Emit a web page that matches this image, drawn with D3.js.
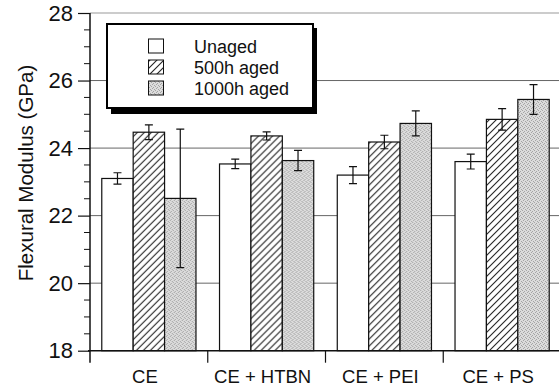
<!DOCTYPE html>
<html>
<head>
<meta charset="utf-8">
<script src="https://cdn.jsdelivr.net/npm/d3@7"></script>
<style>
  body { margin: 0; background: #fff; }
  svg { display: block; font-family: "Liberation Sans", Arial, sans-serif; }
</style>
</head>
<body>
<script>
var width = 559, height = 389;

// data
var categories = ["CE", "CE + HTBN", "CE + PEI", "CE + PS"];
var seriesNames = ["Unaged", "500h aged", "1000h aged"];
var unaged = [23.10, 23.53, 23.20, 23.60];
var unagedErr = [0.17, 0.14, 0.25, 0.22];
var aged500 = [24.47, 24.36, 24.18, 24.85];
var aged500Err = [0.22, 0.12, 0.20, 0.32];
var aged1000 = [22.51, 23.63, 24.73, 25.44];
var aged1000Err = [2.05, 0.30, 0.37, 0.44];
var yTicks = [18, 20, 22, 24, 26, 28];

var values = [unaged, aged500, aged1000];
var errors = [unagedErr, aged500Err, aged1000Err];
var fills = ["#fff", "url(#hatch)", "url(#stipple)"];

var svg = d3.select("body").append("svg")
    .attr("width", width)
    .attr("height", height);

var defs = svg.append("defs");

// diagonal hatch "/"
var hatch = defs.append("pattern")
    .attr("id", "hatch")
    .attr("patternUnits", "userSpaceOnUse")
    .attr("width", 7).attr("height", 7);
hatch.append("rect").attr("width", 7).attr("height", 7).attr("fill", "#fff");
hatch.append("path")
    .attr("d", "M-1,8 L8,-1 M-4,4 L4,-4 M3,11 L11,3")
    .attr("stroke", "#222").attr("stroke-width", 1.1);

// grey stipple
var stip = defs.append("pattern")
    .attr("id", "stipple")
    .attr("patternUnits", "userSpaceOnUse")
    .attr("width", 4).attr("height", 4);
stip.append("rect").attr("width", 4).attr("height", 4).attr("fill", "#dcdcdc");
[[0, 0], [2, 1], [1, 3], [3, 2]].forEach(function(p) {
  stip.append("rect").attr("x", p[0]).attr("y", p[1])
      .attr("width", 1).attr("height", 1).attr("fill", "#a4a4a4");
});

var y = d3.scaleLinear().domain([18, 28]).range([350.7, 13]);
var x = d3.scaleBand().domain(categories).range([90, 561])
    .paddingInner(0.2).paddingOuter(0.1);
var xs = d3.scaleBand().domain(d3.range(3)).range([0, x.bandwidth()]);

// gridlines
svg.append("g").selectAll("line")
    .data(yTicks.filter(function(d) { return d > 18; }))
    .join("line")
    .attr("x1", 90).attr("x2", width)
    .attr("y1", function(d) { return y(d); })
    .attr("y2", function(d) { return y(d); })
    .attr("stroke", function(d) { return d == 28 ? "#999" : "#666"; })
    .attr("stroke-width", 1);

// bars
categories.forEach(function(cat, i) {
  var g = svg.append("g").attr("transform", "translate(" + x(cat) + ",0)");
  for (var s = 0; s < 3; s++) {
    var v = values[s][i];
    g.append("rect")
        .attr("x", xs(s))
        .attr("y", y(v))
        .attr("width", xs.bandwidth())
        .attr("height", y(18) - y(v))
        .attr("fill", fills[s])
        .attr("stroke", "#111")
        .attr("stroke-width", 1.2);
  }
  for (var s = 0; s < 3; s++) {
    var v = values[s][i], e = errors[s][i];
    var cx = xs(s) + xs.bandwidth() / 2;
    g.append("path")
        .attr("d", "M" + cx + "," + y(v + e) + "V" + y(v - e) +
             "M" + (cx - 4) + "," + y(v + e) + "h8" +
             "M" + (cx - 4) + "," + y(v - e) + "h8")
        .attr("fill", "none")
        .attr("stroke", "#111")
        .attr("stroke-width", 1.2);
  }
});

// y axis
var yAxis = d3.axisLeft(y).tickValues(yTicks).tickSize(12).tickPadding(5)
    .tickFormat(d3.format("d"));
var ya = svg.append("g").attr("transform", "translate(90,0)").call(yAxis);
ya.select(".domain").remove();
ya.selectAll("line").attr("stroke", "#111").attr("stroke-width", 1.2);
ya.selectAll("text").attr("font-size", 22).attr("fill", "#111")
    .attr("font-family", "Liberation Sans, Arial, sans-serif");
svg.append("g").selectAll("line")
    .data(d3.range(18.5, 28, 0.5).filter(function(d) { return d % 2 != 0; }))
    .join("line")
    .attr("x1", 84).attr("x2", 90)
    .attr("y1", function(d) { return y(d); })
    .attr("y2", function(d) { return y(d); })
    .attr("stroke", "#111");
svg.append("line")
    .attr("x1", 90).attr("x2", 90)
    .attr("y1", y(28)).attr("y2", y(18) + 12)
    .attr("stroke", "#111").attr("stroke-width", 1.5);

// x axis
svg.append("line")
    .attr("x1", 88).attr("x2", width)
    .attr("y1", y(18)).attr("y2", y(18))
    .attr("stroke", "#111").attr("stroke-width", 1.5);
svg.append("g").selectAll("line")
    .data(categories.slice(1))
    .join("line")
    .attr("x1", function(d) { return x(d) - x.step() * x.paddingInner() / 2; })
    .attr("x2", function(d) { return x(d) - x.step() * x.paddingInner() / 2; })
    .attr("y1", y(18)).attr("y2", y(18) + 12)
    .attr("stroke", "#111").attr("stroke-width", 1.2);
svg.append("g").selectAll("text")
    .data(categories)
    .join("text")
    .attr("x", function(d) { return x(d) + x.bandwidth() / 2 - 4; })
    .attr("y", 383)
    .attr("text-anchor", "middle")
    .attr("font-size", 18.5)
    .attr("fill", "#111")
    .text(function(d) { return d; });

// y title
svg.append("text")
    .attr("transform", "translate(33,173) rotate(-90)")
    .attr("text-anchor", "middle")
    .attr("font-size", 20.5)
    .attr("fill", "#111")
    .text("Flexural Modulus (GPa)");

// legend
var lg = svg.append("g");
lg.append("rect").attr("x", 111).attr("y", 28).attr("width", 206).attr("height", 86)
    .attr("fill", "#000");
lg.append("rect").attr("x", 107).attr("y", 24).attr("width", 206).attr("height", 84)
    .attr("fill", "#fff").attr("stroke", "#000").attr("stroke-width", 2);
seriesNames.forEach(function(name, i) {
  lg.append("rect")
      .attr("x", 148.5).attr("y", 39 + i * 21)
      .attr("width", 15).attr("height", 14)
      .attr("fill", fills[i])
      .attr("stroke", "#111").attr("stroke-width", 1);
  lg.append("text")
      .attr("x", 194).attr("y", 53 + i * 21)
      .attr("font-size", 18)
      .attr("fill", "#111")
      .text(name);
});
</script>
</body>
</html>
